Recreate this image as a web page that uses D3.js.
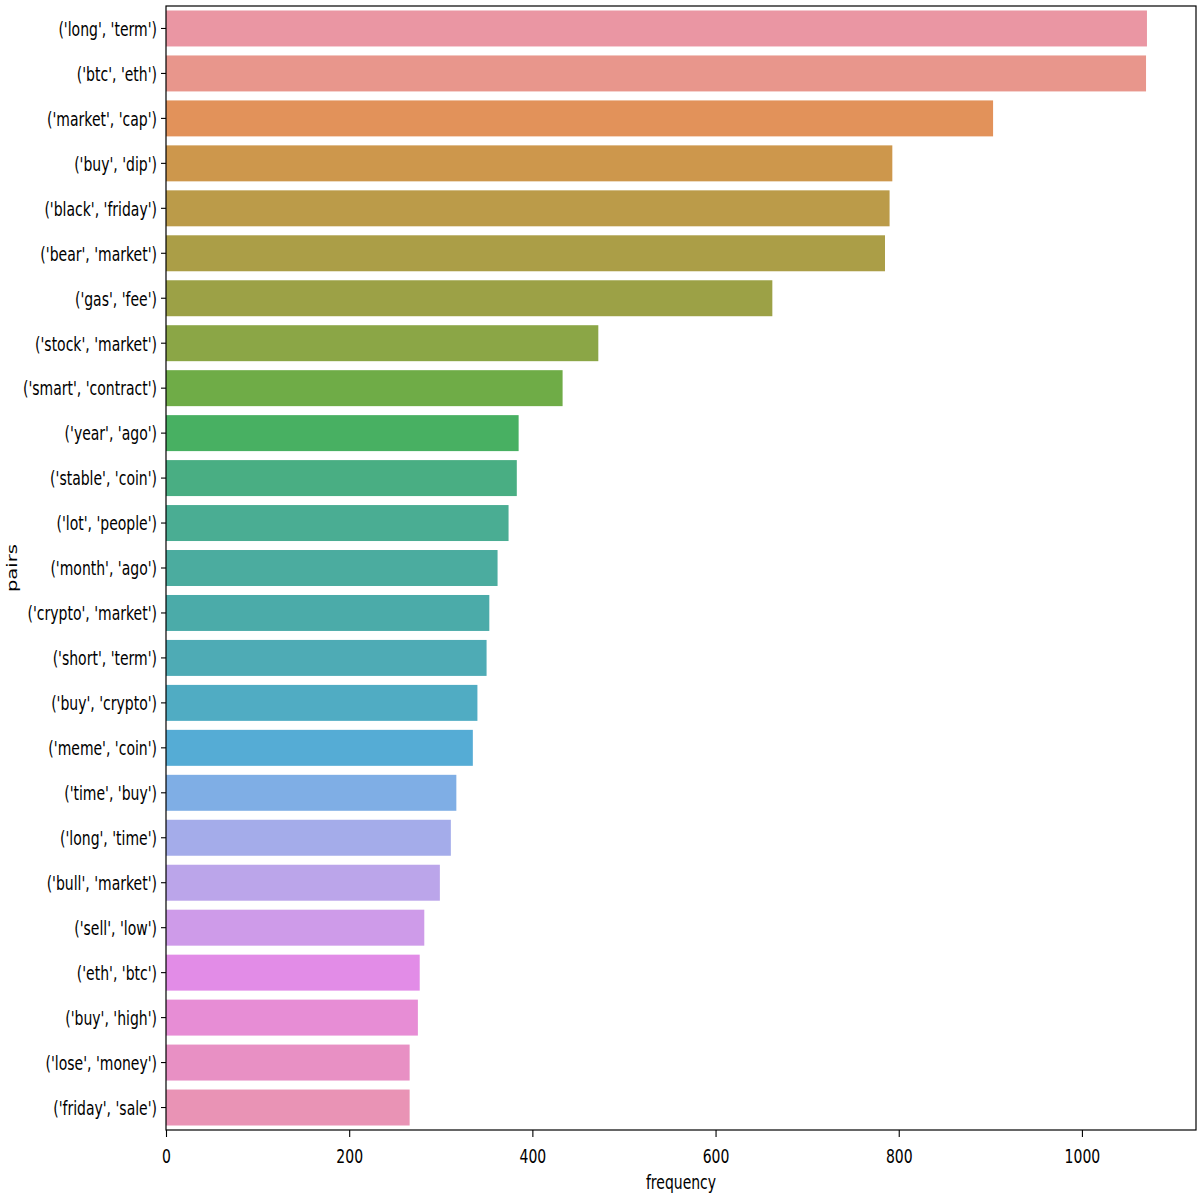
<!DOCTYPE html>
<html>
<head>
<meta charset="utf-8">
<script src="https://cdn.jsdelivr.net/npm/d3@7"></script>
<style>
  body { margin: 0; background: #fff; }
  text { font-family: "DejaVu Sans", sans-serif; fill: #000; }
</style>
</head>
<body>
<svg width="1200" height="1200"></svg>
<script>
// bigram pairs, top to bottom
const pairs = [
  "('long', 'term')", "('btc', 'eth')", "('market', 'cap')", "('buy', 'dip')",
  "('black', 'friday')", "('bear', 'market')", "('gas', 'fee')", "('stock', 'market')",
  "('smart', 'contract')", "('year', 'ago')", "('stable', 'coin')", "('lot', 'people')",
  "('month', 'ago')", "('crypto', 'market')", "('short', 'term')", "('buy', 'crypto')",
  "('meme', 'coin')", "('time', 'buy')", "('long', 'time')", "('bull', 'market')",
  "('sell', 'low')", "('eth', 'btc')", "('buy', 'high')", "('lose', 'money')",
  "('friday', 'sale')"
];
const frequency = [
  1071, 1070, 903, 793, 790, 785, 662, 472, 433, 385, 383, 374, 362,
  353, 350, 340, 335, 317, 311, 299, 282, 277, 275, 266, 266
];
const xTicks = [0, 200, 400, 600, 800, 1000];

// husl palette (seaborn style), then desaturated a bit like seaborn does for patches
const M = [[3.2406, -1.5372, -0.4986], [-0.9689, 1.8758, 0.0415], [0.0557, -0.2040, 1.0570]];
const refU = 0.19784, refV = 0.46834, labE = 0.008856, labK = 903.3;

function maxChroma(L, H) {
  const hrad = H / 360 * 2 * Math.PI;
  const sinH = Math.sin(hrad), cosH = Math.cos(hrad);
  const sub1 = Math.pow(L + 16, 3) / 1560896;
  const sub2 = sub1 > labE ? sub1 : L / labK;
  let result = Infinity;
  M.forEach(([m1, m2, m3]) => {
    const tp = (0.99915 * m1 + 1.05122 * m2 + 1.14460 * m3) * sub2;
    const rbottom = 0.86330 * m3 - 0.17266 * m2;
    const lbottom = 0.12949 * m3 - 0.38848 * m1;
    const bt = (rbottom * sinH + lbottom * cosH) * sub2;
    [0, 1].forEach((t) => {
      const C = L * (tp - 1.05122 * t) / (bt + 0.17266 * sinH * t);
      if (C > 0 && C < result) result = C;
    });
  });
  return result;
}

function huslToRgb(H, S, L) {
  const C = maxChroma(L, H) / 100 * S;
  const hrad = H / 360 * 2 * Math.PI;
  const U = Math.cos(hrad) * C, V = Math.sin(hrad) * C;
  const t = (L + 16) / 116;
  const varY = Math.pow(t, 3) > labE ? Math.pow(t, 3) : (116 * t - 16) / labK;
  const varU = U / (13 * L) + refU;
  const varV = V / (13 * L) + refV;
  const Y = varY;
  const X = -(9 * Y * varU) / ((varU - 4) * varV - varU * varV);
  const Z = (9 * Y - 15 * varV * Y - varV * X) / (3 * varV);
  return M.map(([a, b, c]) => {
    const v = a * X + b * Y + c * Z;
    const s = v <= 0.0031308 ? 12.92 * v : 1.055 * Math.pow(v, 1 / 2.4) - 0.055;
    return Math.min(1, Math.max(0, s));
  });
}

const colors = pairs.map((d, i) => {
  const h = ((i / pairs.length + 0.01) % 1) * 359;
  const [r, g, b] = huslToRgb(h, 0.9 * 99, 0.7 * 99);
  const c = d3.hsl(d3.rgb(r * 255, g * 255, b * 255));
  c.s *= 0.75;
  return c.formatHex();
});

const svg = d3.select("svg");
const plotLeft = 166, plotRight = 1196, plotTop = 6, plotBottom = 1130;
const stretch = 1.4; // text is taller than wide in the reference

const x = d3.scaleLinear()
  .domain([0, d3.max(frequency) * 1.05])
  .range([plotLeft, plotRight]);
const y = d3.scaleBand()
  .domain(pairs)
  .range([plotTop, plotBottom])
  .paddingInner(0.2)
  .paddingOuter(0.1);

// bars
svg.append("g")
  .selectAll("rect")
  .data(pairs)
  .join("rect")
  .attr("x", x(0))
  .attr("y", (d) => y(d))
  .attr("width", (d, i) => x(frequency[i]) - x(0))
  .attr("height", y.bandwidth())
  .attr("fill", (d, i) => colors[i]);

// x axis
const xAxis = svg.append("g")
  .attr("transform", `translate(0,${plotBottom})`)
  .call(d3.axisBottom(x).tickValues(xTicks).tickFormat(d3.format("d")).tickSize(7).tickSizeOuter(0));
xAxis.select(".domain").remove();
xAxis.selectAll(".tick line").attr("stroke", "#000").attr("stroke-width", 1.1);
xAxis.selectAll(".tick text")
  .attr("y", null).attr("dy", null)
  .attr("font-size", 14)
  .attr("font-family", "DejaVu Sans")
  .attr("fill", "#000")
  .attr("transform", `translate(0,33) scale(1,${stretch})`);

// y axis
const yAxis = svg.append("g")
  .attr("transform", `translate(${plotLeft},0)`)
  .call(d3.axisLeft(y).tickSize(5).tickSizeOuter(0));
yAxis.select(".domain").remove();
yAxis.selectAll(".tick line").attr("stroke", "#000").attr("stroke-width", 1.1);
yAxis.selectAll(".tick text")
  .attr("x", null).attr("dy", null)
  .attr("font-size", 14)
  .attr("font-family", "DejaVu Sans")
  .attr("fill", "#000")
  .attr("transform", `translate(-9,7.3) scale(1,${stretch})`);

// frame
svg.append("rect")
  .attr("x", plotLeft).attr("y", plotTop)
  .attr("width", plotRight - plotLeft).attr("height", plotBottom - plotTop)
  .attr("fill", "none")
  .attr("stroke", "#000")
  .attr("stroke-width", 1.2);

// axis titles
svg.append("text")
  .attr("transform", `translate(${(plotLeft + plotRight) / 2},1189) scale(1,${stretch})`)
  .attr("text-anchor", "middle")
  .attr("font-size", 14)
  .text("frequency");

svg.append("text")
  .attr("transform", `translate(17,${(plotTop + plotBottom) / 2}) scale(1,${stretch}) rotate(-90)`)
  .attr("text-anchor", "middle")
  .attr("font-size", 14)
  .text("pairs");
</script>
</body>
</html>
